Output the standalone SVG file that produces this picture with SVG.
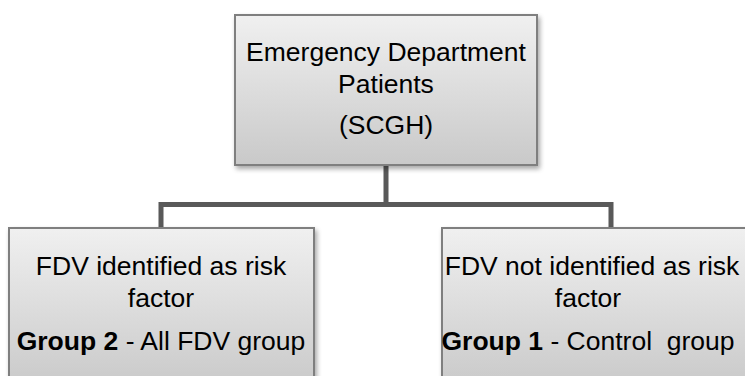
<svg xmlns="http://www.w3.org/2000/svg" width="745" height="376" viewBox="0 0 745 376">
<defs>
<linearGradient id="g" x1="0" y1="0" x2="0" y2="1">
<stop offset="0" stop-color="#f0f0f0"/>
<stop offset="1" stop-color="#c9c9c9"/>
</linearGradient>
<filter id="sh" x="-10%" y="-10%" width="125%" height="130%">
<feGaussianBlur in="SourceAlpha" stdDeviation="2.5"/>
<feOffset dx="2" dy="3" result="b"/>
<feComponentTransfer><feFuncA type="linear" slope="0.35"/></feComponentTransfer>
<feMerge><feMergeNode/><feMergeNode in="SourceGraphic"/></feMerge>
</filter>
</defs>
<style>
.box{fill:url(#g);stroke:#7f7f7f;stroke-width:2;filter:url(#sh)}
.t{font-family:"Liberation Sans",Arial,sans-serif;font-size:26.5px;fill:#000;text-anchor:middle}
.b{font-weight:bold}
.c{fill:none;stroke:#595959;stroke-width:5}
</style>
<g id="connectors">
<path class="c" d="M386 165 V204.5 M161 228 V204.5 H611 V228"/>
</g>
<g id="top">
<rect class="box" x="235" y="15" width="302" height="150"/>
<text class="t" x="386" y="61">Emergency Department</text>
<text class="t" x="386" y="93">Patients</text>
<text class="t" x="386" y="134">(SCGH)</text>
</g>
<g id="left">
<rect class="box" x="9" y="228" width="305" height="160"/>
<text class="t" x="161" y="275">FDV identified as risk</text>
<text class="t" x="161" y="307">factor</text>
<text class="t" x="161" y="350"><tspan class="b">Group 2</tspan> - All FDV group</text>
</g>
<g id="right">
<rect class="box" x="442" y="228" width="306" height="160"/>
<text class="t" x="592" y="275">FDV not identified as risk</text>
<text class="t" x="588" y="307">factor</text>
<text class="t" x="588" y="350" xml:space="preserve"><tspan class="b">Group 1</tspan> - Control  group</text>
</g>
</svg>
